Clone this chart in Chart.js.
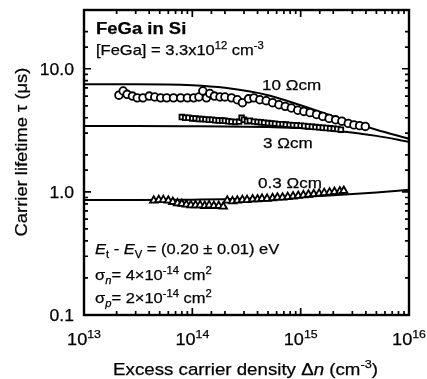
<!DOCTYPE html>
<html>
<head>
<meta charset="utf-8">
<script src="https://cdn.jsdelivr.net/npm/chart.js@4.4.0/dist/chart.umd.min.js"></script>
<style>
  html, body { margin: 0; padding: 0; background: #fff; }
</style>
</head>
<body>
<canvas id="myChart" width="427" height="379"></canvas>
<script>
// axis ticks
const xTickValues = [1e13, 1e14, 1e15, 1e16];
const xTickExps = ['13', '14', '15', '16'];
const yTickValues = [0.1, 1, 10];
const yTickLabels = ['0.1', '1.0', '10.0'];

// 10 Ωcm measured (circles)
const circDn = [2.1e13, 2.3e13, 2.5e13, 2.8e13, 3.1e13, 3.5e13, 4.0e13, 4.5e13, 5.1e13, 5.8e13,
    6.7e13, 7.8e13, 9.0e13, 1.03e14, 1.15e14, 1.25e14, 1.35e14, 1.45e14, 1.6e14, 1.8e14,
    2.0e14, 2.3e14, 2.6e14, 2.9e14, 3.3e14, 3.7e14, 4.2e14, 4.8e14, 5.5e14, 6.3e14,
    7.2e14, 8.2e14, 9.4e14, 1.07e15, 1.22e15, 1.4e15, 1.6e15, 1.83e15, 2.1e15, 2.4e15,
    2.75e15, 3.1e15, 3.5e15, 3.95e15];
const circTau = [6.1, 6.6, 6.2, 6.0, 5.8, 5.8, 6.0, 5.9, 5.8, 5.8,
    5.8, 5.8, 5.8, 5.8, 5.9, 6.6, 5.8, 6.3, 6.0, 5.9,
    5.9, 5.8, 5.6, 5.3, 5.7, 5.8, 5.6, 5.5, 5.3, 5.1,
    4.95, 4.8, 4.6, 4.5, 4.4, 4.25, 4.1, 3.95, 3.85, 3.75,
    3.6, 3.5, 3.45, 3.4];

// 3 Ωcm measured (squares)
const sqDn = [8.0e13, 8.6e13, 9.2e13, 1.0e14, 1.07e14, 1.15e14, 1.23e14, 1.32e14, 1.42e14, 1.52e14,
    1.63e14, 1.75e14, 1.88e14, 2.0e14, 2.15e14, 2.3e14, 2.5e14, 2.7e14, 2.85e14, 3.0e14,
    3.2e14, 3.4e14, 3.7e14, 4.0e14, 4.3e14, 4.6e14, 5.0e14, 5.4e14, 5.8e14, 6.3e14,
    6.8e14, 7.3e14, 7.9e14, 8.5e14, 9.2e14, 1.0e15, 1.08e15, 1.17e15, 1.27e15, 1.37e15,
    1.48e15, 1.6e15, 1.73e15, 1.87e15, 2.02e15, 2.18e15, 2.35e15];
const sqTau = [4.05, 4.0, 4.0, 3.95, 3.95, 3.9, 3.9, 3.88, 3.85, 3.85,
    3.82, 3.8, 3.8, 3.78, 3.75, 3.72, 3.7, 3.72, 4.0, 3.85,
    3.75, 3.78, 3.72, 3.7, 3.68, 3.65, 3.62, 3.6, 3.58, 3.55,
    3.55, 3.52, 3.5, 3.48, 3.47, 3.45, 3.43, 3.4, 3.38, 3.36,
    3.34, 3.32, 3.3, 3.28, 3.26, 3.24, 3.2];

// 0.3 Ωcm measured (triangles)
const triDn = [4.4e13, 4.9e13, 5.4e13, 6.0e13, 6.6e13, 7.3e13, 8.0e13, 8.8e13, 9.7e13, 1.07e14,
    1.18e14, 1.3e14, 1.43e14, 1.58e14, 1.75e14, 1.93e14, 2.1e14, 2.35e14, 2.6e14, 2.9e14,
    3.2e14, 3.6e14, 4.0e14, 4.4e14, 4.9e14, 5.5e14, 6.1e14, 6.8e14, 7.6e14, 8.5e14,
    9.5e14, 1.06e15, 1.18e15, 1.32e15, 1.48e15, 1.65e15, 1.85e15, 2.05e15, 2.3e15, 2.5e15];
const triTau = [0.85, 0.86, 0.86, 0.85, 0.83, 0.81, 0.8, 0.79, 0.78, 0.78,
    0.78, 0.77, 0.78, 0.77, 0.77, 0.76, 0.85, 0.84, 0.85, 0.86,
    0.86, 0.87, 0.87, 0.88, 0.88, 0.89, 0.9, 0.9, 0.91, 0.92,
    0.93, 0.94, 0.95, 0.96, 0.97, 0.98, 0.99, 1.0, 1.01, 1.02];

// fitted curves
const fitDn = [1e13, 3e13, 1e14, 2e14, 5e14, 1e15, 2e15, 5e15, 1e16];
const fit10 = [7.5, 7.5, 7.35, 7.0, 6.1, 5.05, 4.1, 3.2, 2.7];
const fit3 = [3.42, 3.42, 3.41, 3.4, 3.36, 3.3, 3.15, 2.85, 2.55];
const fit03 = [0.86, 0.86, 0.865, 0.87, 0.89, 0.91, 0.94, 0.99, 1.04];

const toPts = (xs, ys) => xs.map((x, i) => ({ x: x, y: ys[i] }));

const FONT = '"Liberation Sans", Arial, sans-serif';
const SX = 1.1; // text is a bit wide in the original

// draw a text made of parts: [text, style], style may contain i, b, sup, sub
function richText(ctx, x, y, parts, size, align) {
    const segs = parts.map(p => {
        const st = p[1] || '';
        const small = st.includes('sup') || st.includes('sub');
        const sz = small ? size * 0.68 : size;
        const font = (st.includes('i') && st !== 'sub' && st !== 'sup' ? 'italic ' : '') +
            (st.includes('b') && !st.includes('sub') ? 'bold ' : '') + sz + 'px ' + FONT;
        ctx.font = font;
        let dy = 0;
        if (st.includes('sup')) dy = -size * 0.42;
        if (st.includes('sub')) dy = size * 0.25;
        return { t: p[0], font: font, dy: dy, w: ctx.measureText(p[0]).width };
    });
    const total = segs.reduce((s, g) => s + g.w, 0);
    let cx = 0;
    if (align === 'center') cx = -total / 2;
    if (align === 'right') cx = -total;
    ctx.save();
    ctx.translate(x, y);
    ctx.scale(SX, 1);
    ctx.fillStyle = '#000';
    ctx.strokeStyle = '#000';
    ctx.lineWidth = 0.25;
    ctx.textBaseline = 'alphabetic';
    ctx.textAlign = 'left';
    segs.forEach(g => {
        ctx.font = g.font;
        ctx.fillText(g.t, cx, g.dy);
        ctx.strokeText(g.t, cx, g.dy);
        cx += g.w;
    });
    ctx.restore();
}

const decorPlugin = {
    id: 'decor',
    afterDatasetsDraw(chart) {
        const ctx = chart.ctx;
        const a = chart.chartArea;
        const xs = chart.scales.x;
        const ys = chart.scales.y;

        ctx.save();
        ctx.strokeStyle = '#000';
        // frame
        ctx.lineWidth = 2.4;
        ctx.strokeRect(a.left, a.top, a.right - a.left, a.bottom - a.top);

        // inward ticks on all four sides
        ctx.lineWidth = 1.7;
        const isMajor = v => Math.abs(Math.log10(v) - Math.round(Math.log10(v))) < 1e-6;
        xs.ticks.forEach(t => {
            const px = xs.getPixelForValue(t.value);
            if (px < a.left - 0.5 || px > a.right + 0.5) return;
            const len = isMajor(t.value) ? 7 : 4;
            ctx.beginPath();
            ctx.moveTo(px, a.bottom); ctx.lineTo(px, a.bottom - len);
            ctx.moveTo(px, a.top); ctx.lineTo(px, a.top + len);
            ctx.stroke();
        });
        ys.ticks.forEach(t => {
            const py = ys.getPixelForValue(t.value);
            if (py < a.top - 0.5 || py > a.bottom + 0.5) return;
            const len = isMajor(t.value) ? 7 : 4;
            ctx.beginPath();
            ctx.moveTo(a.left, py); ctx.lineTo(a.left + len, py);
            ctx.moveTo(a.right, py); ctx.lineTo(a.right - len, py);
            ctx.stroke();
        });
        ctx.restore();

        // tick labels
        yTickValues.forEach((v, i) => {
            const py = ys.getPixelForValue(v);
            richText(ctx, a.left - 10, py + 6, [[yTickLabels[i]]], 16, 'right');
        });
        xTickValues.forEach((v, i) => {
            const px = xs.getPixelForValue(v);
            richText(ctx, px, a.bottom + 30, [['10'], [xTickExps[i], 'sup']], 16.5, 'center');
        });

        // axis titles
        richText(ctx, (a.left + a.right) / 2 - 1, 375,
            [['Excess carrier density \u0394'], ['n', 'i'], [' (cm'], ['-3', 'sup'], [')']], 17, 'center');
        ctx.save();
        ctx.translate(27, 152);
        ctx.rotate(-Math.PI / 2);
        ctx.scale(1 / SX, 1);
        ctx.scale(1.08, 1);
        richText(ctx, 0, 0, [['Carrier lifetime \u03c4 (\u03bcs)']], 17, 'center');
        ctx.restore();

        // annotations
        richText(ctx, 96, 34, [['FeGa in Si', 'b']], 16.8, 'left');
        richText(ctx, 96, 55, [['[FeGa] = 3.3x10'], ['12', 'sup'], [' cm'], ['-3', 'sup']], 15, 'left');
        richText(ctx, 262, 90, [['10 \u03a9cm']], 15.5, 'left');
        richText(ctx, 263, 148, [['3 \u03a9cm']], 15.5, 'left');
        richText(ctx, 258, 188, [['0.3 \u03a9cm']], 15.5, 'left');
        richText(ctx, 95, 254, [['E', 'i'], ['t', 'sub'], [' - '], ['E', 'i'], ['V', 'sub'], [' = (0.20 \u00b1 0.01) eV']], 15, 'left');
        richText(ctx, 95, 280, [['\u03c3'], ['n', 'isub'], ['= 4\u00d710'], ['-14', 'sup'], [' cm'], ['2', 'sup']], 15, 'left');
        richText(ctx, 95, 303, [['\u03c3'], ['p', 'isub'], ['= 2\u00d710'], ['-14', 'sup'], [' cm'], ['2', 'sup']], 15, 'left');
    }
};

const lineStyle = {
    showLine: true,
    pointRadius: 0,
    borderColor: '#000',
    borderWidth: 2,
    cubicInterpolationMode: 'monotone',
    fill: false
};
const markStyle = {
    showLine: false,
    borderColor: '#000',
    backgroundColor: '#fff',
    borderWidth: 1.8
};

const ctx = document.getElementById('myChart').getContext('2d');
const myChart = new Chart(ctx, {
    type: 'scatter',
    data: {
        datasets: [
            Object.assign({ label: '10 fit', data: toPts(fitDn, fit10), order: 4 }, lineStyle),
            Object.assign({ label: '3 fit', data: toPts(fitDn, fit3), order: 5 }, lineStyle),
            Object.assign({ label: '0.3 fit', data: toPts(fitDn, fit03), order: 6 }, lineStyle),
            Object.assign({ label: '10 Ωcm', data: toPts(circDn, circTau), pointStyle: 'circle', pointRadius: 3.8, order: 1 }, markStyle),
            Object.assign({ label: '3 Ωcm', data: toPts(sqDn, sqTau), pointStyle: 'rect', pointRadius: 3.3, order: 2 }, markStyle),
            Object.assign({ label: '0.3 Ωcm', data: toPts(triDn, triTau), pointStyle: 'triangle', pointRadius: 4.3, order: 3 }, markStyle)
        ]
    },
    options: {
        responsive: false,
        animation: false,
        devicePixelRatio: 1,
        layout: { padding: { left: 84, right: 18, top: 10, bottom: 64 } },
        plugins: {
            legend: { display: false },
            tooltip: { enabled: false }
        },
        scales: {
            x: {
                type: 'logarithmic',
                min: 1e13,
                max: 1e16,
                grid: { display: false, drawTicks: false },
                border: { display: false },
                ticks: { display: false }
            },
            y: {
                type: 'logarithmic',
                min: 0.1,
                max: 30,
                grid: { display: false, drawTicks: false },
                border: { display: false },
                ticks: { display: false }
            }
        }
    },
    plugins: [decorPlugin]
});
</script>
</body>
</html>
